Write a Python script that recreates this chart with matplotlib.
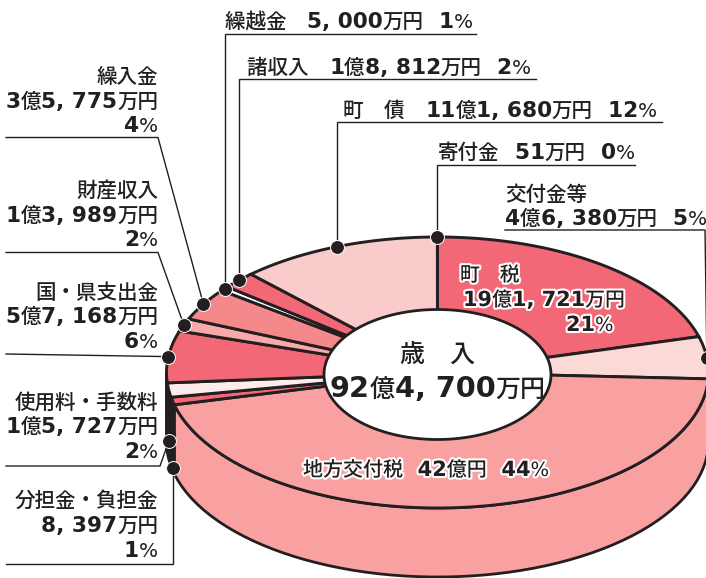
import re
import numpy as np
import matplotlib
matplotlib.use("Agg")
import matplotlib.pyplot as plt
import matplotlib.patheffects as pe

# amounts in 万円, clockwise from the top
names = ['町税', '交付金等', '地方交付税', '分担金・負担金', '使用料・手数料', '国・県支出金',
         '財産収入', '繰入金', '繰越金', '諸収入', '町債', '寄付金']
amounts = [191721, 46380, 420000, 8397, 15727, 57168, 13989, 35775, 5000, 18812, 111680, 51]
top_colors = ['#F26876', '#FBD9D6', '#F9A1A1', '#F26876', '#FDECEA', '#F26876',
              '#F9A9A8', '#F5888B', '#FFFFFF', '#F26876', '#FACBCB', '#FFFFFF']
side_colors = ['#F26876', '#F9A1A1', '#F9A1A1', '#231F20', '#231F20', '#231F20',
               '#F9A9A8', '#F5888B', '#FFFFFF', '#F26876', '#FACBCB', '#FFFFFF']

INK = '#231F20'
cx, cy, rx, ry = 437.5, 372.5, 271, 135.5
hx, hy = 113.5, 65
hole_cy = 374.5
depth = 69

fig = plt.figure(figsize=(7.06, 5.78), dpi=100)
ax = fig.add_axes([0, 0, 1, 1])
ax.set_xlim(0, 706)
ax.set_ylim(578, 0)
ax.axis('off')
renderer = fig.canvas.get_renderer()


def pt(theta):
    t = np.radians(theta)
    return cx + rx * np.cos(t), cy - ry * np.sin(t)


# slice angles, in degrees, going clockwise from 90
shares = np.array(amounts) / sum(amounts) * 360
ends = 90 - np.cumsum(shares)
starts = ends + shares
mids = (starts + ends) / 2

# side of the cake first
for a, b, c in zip(starts, ends, side_colors):
    # keep only the part on the front half (sin < 0)
    hi, lo = (a % 360 + 360, b % 360 + 360)
    if hi < lo:
        hi += 360
    hi2 = min(hi, 720)
    lo2 = max(lo, 540)
    if hi2 <= lo2:
        continue
    th = np.linspace(hi2, lo2, 60)
    x, y = pt(th)
    ax.fill(np.r_[x, x[::-1]], np.r_[y, y[::-1] + depth], fc=c, ec=INK, lw=2.0, joinstyle='round', zorder=1)

# top surface
for a, b, c in zip(starts, ends, top_colors):
    th = np.linspace(a, b, 120)
    x, y = pt(th)
    ax.fill(np.r_[cx, x], np.r_[cy, y], fc=c, ec=INK, lw=2.1, joinstyle='miter', zorder=2)

# hole
t = np.linspace(0, 2 * np.pi, 200)
ax.fill(cx + hx * np.cos(t), hole_cy + hy * np.sin(t), fc='white', ec=INK, lw=2.0, zorder=3)

FONT_KANJI = dict(family='Noto Sans CJK JP', weight='medium')
FONT_BOLD = dict(family='DejaVu Sans', weight='bold')
FONT_PCT = dict(family='DejaVu Sans', weight='normal')


def split_runs(s, bold_scale):
    runs = []
    for m in re.finditer(r'[0-9, ]+|%|[^0-9, %]+', s):
        part = m.group()
        if part == '%':
            runs.append((part, FONT_PCT, 0.98))
        elif re.match(r'[0-9, ]', part):
            runs.append((part, FONT_BOLD, bold_scale))
        else:
            runs.append((part, FONT_KANJI, 1.0))
    return runs


def width(s, font, size):
    a = ax.text(0, 0, '|' + s + '|', fontsize=size, **font)
    b = ax.text(0, 0, '||', fontsize=size, **font)
    w = a.get_window_extent(renderer).width - b.get_window_extent(renderer).width
    a.remove()
    b.remove()
    return w


def label(x, y, s, ha='left', size=14.8, halo=None, bold_scale=1.05):
    runs = split_runs(s, bold_scale)
    widths = [width(r[0], r[1], size * r[2]) for r in runs]
    if ha == 'right':
        x = x - sum(widths)
    elif ha == 'center':
        x = x - sum(widths) / 2
    for (part, font, scale), w in zip(runs, widths):
        txt = ax.text(x, y, part, fontsize=size * scale, color=INK, va='baseline', ha='left', zorder=6, **font)
        if halo:
            txt.set_path_effects([pe.withStroke(linewidth=halo, foreground='white')])
        x += w


# leader lines: the last point is the dot on the slice
side_frac = {'使用料・手数料': 0.74, '分担金・負担金': 0.97}
leaders = {
    '繰入金': [(6, 137.5), (158, 137.5)],
    '財産収入': [(6, 252.5), (158, 252.5)],
    '国・県支出金': [(6, 354)],
    '使用料・手数料': [(6, 466), (160, 466)],
    '分担金・負担金': [(6, 564), (173, 564)],
    '繰越金': [(476, 34), (224, 34)],
    '諸収入': [(536, 79), (245.5, 79)],
    '町債': [(662, 122), (341, 122)],
    '寄付金': [(635, 165), (435.5, 165)],
    '交付金等': [(705, 230), (505, 230)],
}
for name, m in zip(names, mids):
    if name not in leaders:
        continue
    dx, dy = pt(m)
    dy = dy + depth * side_frac.get(name, 0)
    pts = leaders[name]
    if name == '交付金等':
        xs = [pts[1][0], pts[0][0], dx]
        ys = [pts[1][1], pts[0][1], dy]
    elif name in ('諸収入', '町債', '寄付金', '繰越金', '分担金・負担金'):
        # vertical drop from the corner to the dot
        xs = [p[0] for p in pts] + [dx]
        ys = [p[1] for p in pts] + [dy]
        xs[1] = dx
    else:
        xs = [p[0] for p in pts] + [dx]
        ys = [p[1] for p in pts] + [dy]
    ax.plot(xs, ys, color=INK, lw=1.0, zorder=4, solid_joinstyle='miter')
    ax.scatter([dx], [dy], s=100, color=INK, edgecolors='white', linewidths=0.7, zorder=5)

# left labels, right aligned
for y, s in [(83, '繰入金'), (108, '3億5, 775万円'), (132.5, '4%'),
             (197, '財産収入'), (222, '1億3, 989万円'), (246, '2%'),
             (299, '国・県支出金'), (323, '5億7, 168万円'), (348, '6%'),
             (409, '使用料・手数料'), (433, '1億5, 727万円'), (458, '2%'),
             (507, '分担金・負担金'), (532, '8, 397万円'), (557, '1%')]:
    label(158, y, s, ha='right')

# top labels
label(225, 28, '繰越金　5, 000万円  1%')
label(247, 74, '諸収入　1億8, 812万円  2%')
label(343, 117, '町　債　11億1, 680万円  12%')
label(438, 159, '寄付金  51万円  0%')
label(505, 201, '交付金等')
label(505, 225, '4億6, 380万円  5%')

# inside the chart
label(437.5, 362, '歳　入', ha='center', size=18)
label(437.5, 397, '92億4, 700万円', ha='center', size=18, bold_scale=1.15)
label(460, 281, '町　税', size=14.3, halo=3)
label(463, 306, '19億1, 721万円', size=14.3, halo=3)
label(566, 331, '21%', size=14.3, halo=3)
label(303, 476, '地方交付税  42億円  44%', size=14.4, halo=3)

fig.savefig('out.png', dpi=100)
